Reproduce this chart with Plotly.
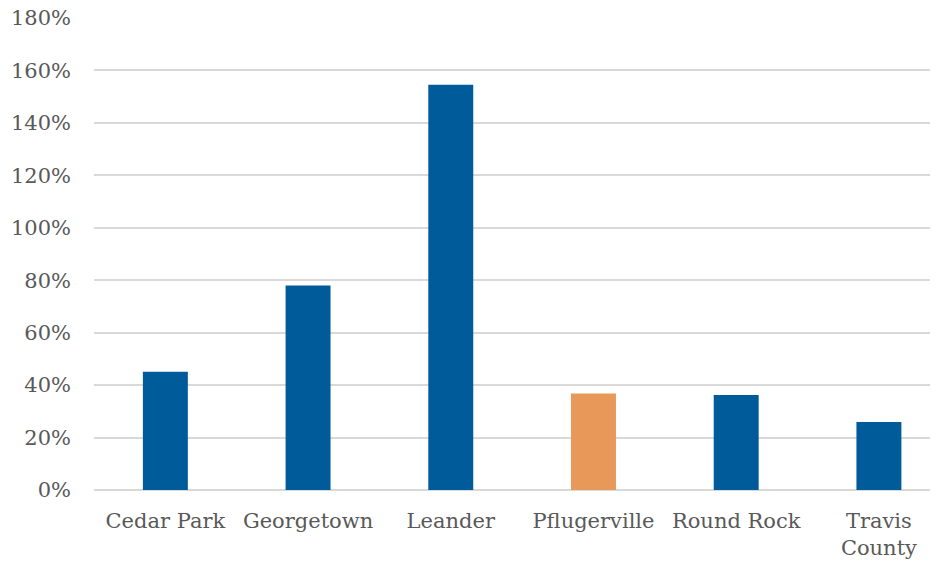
import plotly.graph_objects as go

# Growth by city
cities = ["Cedar Park", "Georgetown", "Leander", "Pflugerville", "Round Rock", "Travis<br>County"]
growth = [45.1, 78.0, 154.5, 36.8, 36.2, 25.9]
bar_colors = ["#005B9A", "#005B9A", "#005B9A", "#E8995A", "#005B9A", "#005B9A"]
y_ticks = [0, 20, 40, 60, 80, 100, 120, 140, 160, 180]
y_tick_text = [f"{v}%" for v in y_ticks]

font_family = "Georgia, 'DejaVu Serif', serif"
text_color = "#595959"
grid_color = "#D9D9D9"

fig = go.Figure(
    go.Bar(
        x=list(range(len(cities))),
        y=growth,
        width=0.315,
        marker=dict(color=bar_colors, line=dict(width=0)),
        hovertext=cities,
        hoverinfo="text+y",
    )
)

fig.update_layout(
    width=935,
    height=563,
    margin=dict(l=94, r=5, t=18, b=73),
    paper_bgcolor="white",
    plot_bgcolor="white",
    showlegend=False,
    font=dict(family=font_family, size=21, color=text_color),
)

fig.update_xaxes(
    range=[-0.5, 5.358],
    tickvals=list(range(len(cities))),
    ticktext=cities,
    automargin=False,
    showgrid=False,
    showline=False,
    zeroline=False,
    ticks="",
    ticklabelstandoff=16,
    tickfont=dict(family=font_family, size=21, color=text_color),
)

fig.update_yaxes(
    range=[0, 180],
    tickvals=y_ticks,
    ticktext=y_tick_text,
    automargin=False,
    showgrid=True,
    gridcolor=grid_color,
    gridwidth=1.5,
    zeroline=True,
    zerolinecolor=grid_color,
    zerolinewidth=2,
    showline=False,
    ticks="",
    ticklabelstandoff=22,
    tickfont=dict(family=font_family, size=21, color=text_color),
)

fig.write_html("out.html")
